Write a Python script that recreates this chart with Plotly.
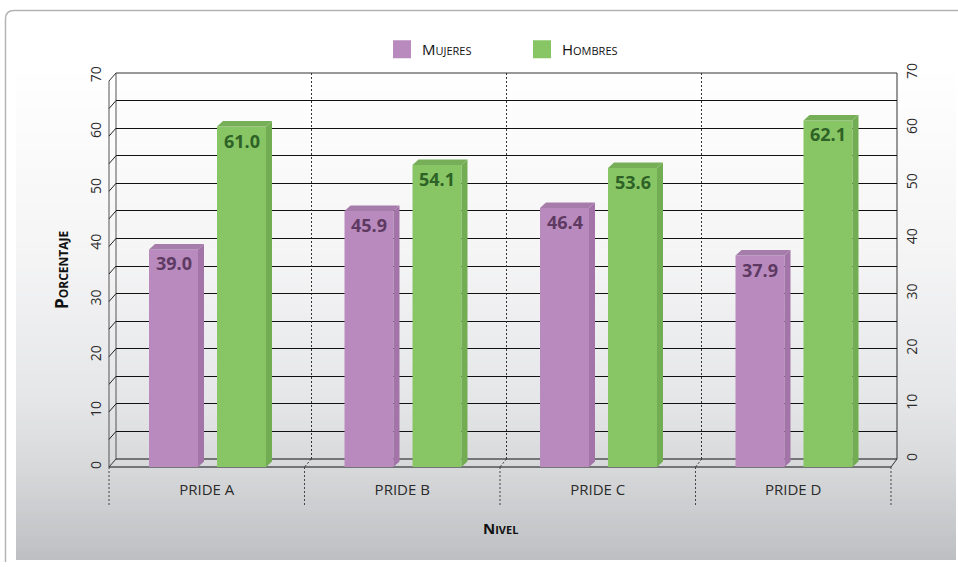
import plotly.graph_objects as go

# ---------------- data ----------------
categories = ["PRIDE A", "PRIDE B", "PRIDE C", "PRIDE D"]
mujeres = [39.0, 45.9, 46.4, 37.9]
hombres = [61.0, 54.1, 53.6, 62.1]
y_ticks = [0, 10, 20, 30, 40, 50, 60, 70]
series_names = ["Mujeres", "Hombres"]

# ---------------- geometry (pixels) ----------------
W, H = 958, 567
FX0, FX1 = 109, 891          # front plane (floor front edge)
FY0 = 467                    # front zero line
FSCALE = 5.58                # px per unit on front plane
YMAX = 70
FYTOP = FY0 - YMAX * FSCALE
BX0, BX1 = 116, 897          # back wall
BY0, BYTOP = 459, 73
DEPTH_X, DEPTH_Y = 7, 8      # wall depth offset
NCAT = len(categories)

def px(x):
    return x / W

def py(y):
    return 1 - y / H

# colours
M_FRONT, M_SIDE, M_TOP, M_TXT = "#b98abd", "#a374a8", "#a67cab", "#5e3a63"
G_FRONT, G_SIDE, G_TOP, G_TXT = "#88c665", "#72ad53", "#77af58", "#2e6226"
FONT = "Open Sans"

unit_px = (FX1 - FX0) / NCAT
BAR_PX = 49
BW = BAR_PX / unit_px
OFF_M = (149 - (FX0 + unit_px / 2)) / unit_px
OFF_H = (217 - (FX0 + unit_px / 2)) / unit_px
BAR_DX, BAR_DY = 6, 5.5
dv = BAR_DY / FSCALE

xs = list(range(NCAT))
fig = go.Figure()
# anchor trace for the back-wall subplot (keeps its axes and grid drawn)
fig.add_trace(go.Scatter(x=[None], y=[None], xaxis="x", yaxis="y", showlegend=False,
                         hoverinfo="skip", mode="markers"))
fig.add_trace(go.Bar(x=xs, y=mujeres, width=BW, offset=OFF_M, marker=dict(color=M_FRONT, line_width=0),
                     xaxis="x2", yaxis="y2", showlegend=False, name=series_names[0]))
fig.add_trace(go.Bar(x=xs, y=hombres, width=BW, offset=OFF_H, marker=dict(color=G_FRONT, line_width=0),
                     xaxis="x2", yaxis="y2", showlegend=False, name=series_names[1]))
# legend proxies
for nm, col in zip(series_names, [M_FRONT, G_FRONT]):
    fig.add_trace(go.Scatter(x=[None], y=[None], mode="markers", name=nm,
                             marker=dict(symbol="square", size=16, color=col,
                                         line=dict(color=col, width=2)),
                             xaxis="x2", yaxis="y2"))

shapes = []
# background gradient
stops = [(65, (255, 255, 255)), (250, (245, 245, 246)), (400, (229, 230, 232)),
         (470, (215, 216, 218)), (560, (190, 191, 194))]

def grad(y):
    for (y0, c0), (y1, c1) in zip(stops[:-1], stops[1:]):
        if y0 <= y <= y1:
            t = (y - y0) / (y1 - y0)
            c = [round(a + (b - a) * t) for a, b in zip(c0, c1)]
            return "rgb(%d,%d,%d)" % tuple(c)
    return "rgb(%d,%d,%d)" % stops[-1][1]

for y in range(65, 560, 3):
    shapes.append(dict(type="rect", xref="paper", yref="paper", x0=px(16), x1=px(956),
                       y0=py(min(y + 4, 560)), y1=py(y), fillcolor=grad(y + 1.5),
                       line_width=0, layer="below"))
# outer frame
shapes.append(dict(type="path", xref="paper", yref="paper", layer="below",
                   path="M %f,%f L %f,%f Q %f,%f %f,%f L %f,%f" % (
                       px(958), py(10.5), px(14), py(10.5), px(5.5), py(10.5),
                       px(5.5), py(19), px(5.5), py(562)),
                   line=dict(color="#b4b4b4", width=1.5)))

def seg(x0, y0, x1, y1, color="#444", width=1, dash="solid", layer="below"):
    shapes.append(dict(type="line", xref="paper", yref="paper", x0=px(x0), y0=py(y0),
                       x1=px(x1), y1=py(y1), line=dict(color=color, width=width, dash=dash),
                       layer=layer))

# wall / floor edges
seg(BX0, BYTOP, BX0, BY0, "#555")
seg(FX0, BYTOP + DEPTH_Y, FX0, FY0, "#555")
seg(FX0, BYTOP + DEPTH_Y, BX0, BYTOP, "#333")
seg(BX0, BYTOP, BX1, BYTOP, "#333")
seg(BX1, BYTOP, BX1, BY0, "#333")
seg(BX0, BY0, BX1, BY0, "#111")
seg(FX0, FY0, FX1, FY0, "#111")
seg(FX0, FY0, BX0, BY0, "#333")
seg(FX1, FY0, BX1, BY0, "#333")
# gridline continuations across side wall
bscale = (BY0 - BYTOP) / YMAX
for v in range(5, YMAX, 5):
    yb = BY0 - v * bscale
    seg(BX0, yb, FX0, yb + DEPTH_Y, "#222")
# category dividers: slant across floor + dotted drop below
bunit = (BX1 - BX0) / NCAT
for k in range(NCAT + 1):
    xf = FX0 + k * unit_px
    xb = BX0 + k * bunit
    if 0 < k < NCAT:
        seg(xb, BY0, xf, FY0, "#333", 1, "2px,2px")
    seg(xf, FY0, xf, FY0 + 40, "#444", 1, "2px,2px")

# 3D faces of bars
for vals, off, side_c, top_c in [(mujeres, OFF_M, M_SIDE, M_TOP), (hombres, OFF_H, G_SIDE, G_TOP)]:
    for i, v in enumerate(vals):
        xl = i + off
        xr = xl + BW
        shapes.append(dict(type="path", xref="x2", yref="y2", xsizemode="pixel", xanchor=xr,
                           path="M0,%f L%f,%f L%f,%f L0,0 Z" % (v, BAR_DX, v + dv, BAR_DX, dv),
                           fillcolor=side_c, line_width=0, layer="above"))
        shapes.append(dict(type="path", xref="x2", yref="y2", xsizemode="pixel", xanchor=xl,
                           path="M0,%f L%f,%f L%f,%f L%f,%f Z" % (v, BAR_DX, v + dv, BAR_PX + BAR_DX, v + dv, BAR_PX, v),
                           fillcolor=top_c, line_width=0, layer="above"))

annotations = []
for vals, off, tc in [(mujeres, OFF_M, M_TXT), (hombres, OFF_H, G_TXT)]:
    for i, v in enumerate(vals):
        annotations.append(dict(x=i + off + BW / 2, y=v, xref="x2", yref="y2", text="%.1f" % v,
                                showarrow=False, yanchor="top", xanchor="center", yshift=0,
                                font=dict(family=FONT, size=18, color=tc, weight="bold")))
annotations.append(dict(x=px(61), y=py(270), xref="paper", yref="paper", text="Porcentaje",
                        textangle=-90, showarrow=False, xanchor="center", yanchor="middle",
                        font=dict(family=FONT, size=17, color="#111", weight="bold", variant="small-caps")))
annotations.append(dict(x=px(500), y=py(528), xref="paper", yref="paper", text="Nivel",
                        showarrow=False, xanchor="center", yanchor="middle",
                        font=dict(family=FONT, size=15, color="#111", weight="bold", variant="small-caps")))

tickfont = dict(family=FONT, size=14, color="#2a2a2a")
fig.update_layout(
    width=W, height=H, margin=dict(l=0, r=0, t=0, b=0, pad=0, autoexpand=False),
    paper_bgcolor="white", plot_bgcolor="rgba(0,0,0,0)",
    barmode="overlay",
    shapes=shapes, annotations=annotations,
    showlegend=True,
    legend=dict(orientation="h", x=px(382), y=py(33), xanchor="left", yanchor="top",
                font=dict(family=FONT, size=15, color="#111", variant="small-caps"),
                entrywidth=95, entrywidthmode="pixels", bgcolor="rgba(0,0,0,0)"),
    xaxis=dict(domain=[px(BX0), px(BX1)], range=[-0.5, NCAT - 0.5], anchor="y",
               tickvals=[k + 0.5 for k in range(NCAT - 1)], showticklabels=False, ticks="",
               showgrid=True, gridcolor="#333", gridwidth=1, griddash="2px,2px",
               zeroline=False, showline=False),
    yaxis=dict(domain=[py(BY0), py(BYTOP)], range=[0, YMAX], anchor="x", side="right",
               tickvals=y_ticks, tickangle=-90, tickfont=tickfont,
               ticks="outside", ticklen=2, tickcolor="rgba(0,0,0,0)",
               showgrid=True, gridcolor="#111", gridwidth=1,
               minor=dict(tickvals=list(range(5, YMAX, 10)), showgrid=True, gridcolor="#111", gridwidth=1),
               zeroline=False, showline=False),
    xaxis2=dict(domain=[px(FX0), px(FX1)], range=[-0.5, NCAT - 0.5], anchor="y2",
                tickvals=xs, ticktext=categories, tickfont=dict(family=FONT, size=15, color="#2a2a2a"),
                ticks="outside", ticklen=9, tickcolor="rgba(0,0,0,0)",
                showgrid=False, zeroline=False, showline=False),
    yaxis2=dict(domain=[py(FY0), py(FYTOP)], range=[0, YMAX], anchor="x2", side="left",
                tickvals=y_ticks, tickangle=-90, tickfont=tickfont,
                ticks="outside", ticklen=1, tickcolor="rgba(0,0,0,0)",
                showgrid=False, zeroline=False, showline=False),
)

fig.write_html("out.html")
